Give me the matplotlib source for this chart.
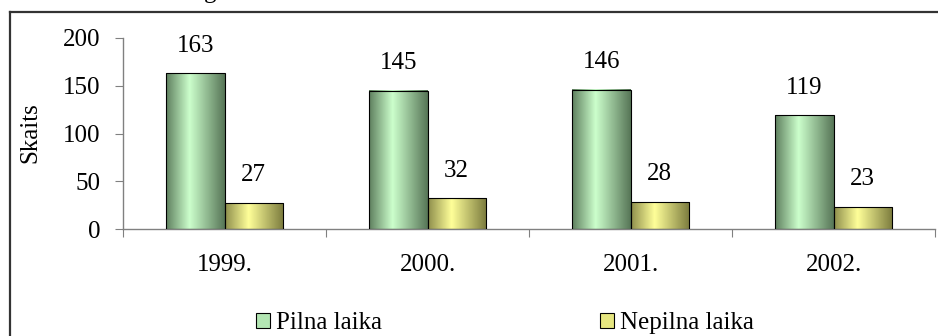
import numpy as np
import matplotlib.pyplot as plt
from matplotlib.lines import Line2D
from matplotlib.patches import Rectangle

plt.rcParams['font.family'] = ['Liberation Serif', 'DejaVu Serif']

years = ["1999.", "2000.", "2001.", "2002."]
full_time = [163, 145, 146, 119]
part_time = [27, 32, 28, 23]
series_names = ["Pilna laika", "Nepilna laika"]

green_stops = [(0.37, 0.50, 0.37), (0.80, 1.00, 0.80), (0.34, 0.46, 0.34)]
yellow_stops = [(0.56, 0.56, 0.30), (1.00, 1.00, 0.60), (0.48, 0.48, 0.24)]


def gradient_image(stops, peak=0.4, n=128):
    t = np.linspace(0, 1, n)
    stops = np.array(stops)
    img = np.zeros((1, n, 3))
    for c in range(3):
        img[0, :, c] = np.interp(t, [0, peak, 1], stops[:, c])
    return img


def shade_bars(ax, bars, stops):
    img = gradient_image(stops)
    for rect in bars:
        x, y = rect.get_x(), rect.get_y()
        w, h = rect.get_width(), rect.get_height()
        ax.imshow(img, extent=[x, x + w, y, y + h], aspect='auto',
                  interpolation='bilinear', zorder=2)
        rect.set_facecolor('none')
        rect.set_zorder(3)


fig = plt.figure(figsize=(9.38, 3.36), dpi=100)
ax = fig.add_axes([123 / 938, 1 - 229 / 336, (935 - 123) / 938, (229 - 38) / 336])

x = np.arange(len(years))
width = 0.286

b1 = ax.bar(x - width, full_time, width, align='edge', edgecolor='black', linewidth=0.8)
b2 = ax.bar(x, part_time, width, align='edge', edgecolor='black', linewidth=0.8)
shade_bars(ax, b1, green_stops)
shade_bars(ax, b2, yellow_stops)

for rect, v in list(zip(b1, full_time)) + list(zip(b2, part_time)):
    ax.annotate(str(v), (rect.get_x() + rect.get_width() / 2, v),
                xytext=(0, 20), textcoords='offset points',
                ha='center', va='center', fontsize=18)

ax.set_xlim(-0.5, len(years) - 0.5)
ax.set_ylim(0, 200)
ax.set_yticks([0, 50, 100, 150, 200])
ax.set_xticks(np.arange(len(years) + 1) - 0.5)
ax.set_xticklabels([])
ax.set_xticks(x, minor=True)
ax.set_xticklabels(years, minor=True)
ax.tick_params(axis='x', which='major', direction='out', length=6, color='#808080')
ax.tick_params(axis='x', which='minor', length=0, pad=18, labelsize=18)
ax.tick_params(axis='y', direction='out', length=6, color='#808080', pad=10, labelsize=18)

for side in ['top', 'right']:
    ax.spines[side].set_visible(False)
for side in ['left', 'bottom']:
    ax.spines[side].set_color('#808080')
    ax.spines[side].set_linewidth(1)

fig.text(30 / 938, 1 - 133 / 336, "Skaits", rotation=90, ha='center', va='center', fontsize=18)

handles = [
    Rectangle((0, 0), 1, 1, facecolor=(0.70, 0.90, 0.70), edgecolor='black', linewidth=0.8),
    Rectangle((0, 0), 1, 1, facecolor=(0.90, 0.90, 0.50), edgecolor='black', linewidth=0.8),
]
fig.legend(handles, series_names, loc='center', bbox_to_anchor=(505 / 938, 1 - 323 / 336),
           ncol=2, frameon=False, fontsize=18, handlelength=0.55, handleheight=0.55,
           handletextpad=0.25, columnspacing=8.7, borderpad=0)

# outer chart frame (cut at right and bottom)
frame_x = 10 / 938
frame_y = 1 - 12 / 336
fig.add_artist(Line2D([frame_x, frame_x], [0, frame_y], color='#333333', linewidth=1.6))
fig.add_artist(Line2D([frame_x, 1], [frame_y, frame_y], color='#333333', linewidth=1.6))

# descender of the cut-off title above the frame
fig.text(210 / 938, 1 + 2 / 336, "g", ha='center', va='baseline', fontsize=18)

fig.savefig("out.png", dpi=100)
